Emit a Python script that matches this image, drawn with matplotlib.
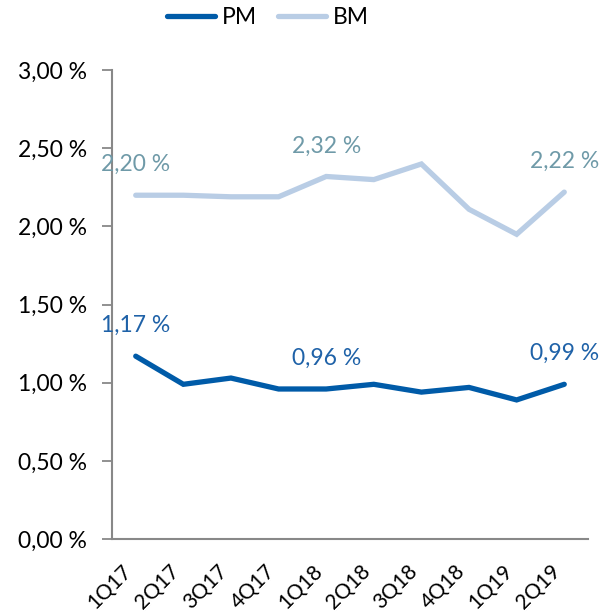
import matplotlib
matplotlib.use('AGG')

import matplotlib.pyplot as plt

plt.rcParams['font.family'] = ['Lato', 'DejaVu Sans']

quarters = ['1Q17', '2Q17', '3Q17', '4Q17', '1Q18', '2Q18', '3Q18', '4Q18', '1Q19', '2Q19']
pm = [1.17, 0.99, 1.03, 0.96, 0.96, 0.99, 0.94, 0.97, 0.89, 0.99]
bm = [2.20, 2.20, 2.19, 2.19, 2.32, 2.30, 2.40, 2.11, 1.95, 2.22]
yticks = [0.0, 0.5, 1.0, 1.5, 2.0, 2.5, 3.0]
labelled = [0, 4, 9]

pm_color = '#005BA8'
bm_color = '#B9CDE5'
pm_text = '#1F62A8'
bm_text = '#6F9AA8'
axis_color = '#888888'
fs = 16.5

def pct(v):
    return ('%.2f %%' % v).replace('.', ',')

fig = plt.figure(figsize=(6.05, 6.16), dpi=100)
ax = fig.add_axes([0.185, 0.125, 0.787, 0.761])

x = list(range(len(quarters)))
ax.plot(x, pm, color=pm_color, lw=3.8, solid_capstyle='round', solid_joinstyle='miter', label='PM')
ax.plot(x, bm, color=bm_color, lw=3.8, solid_capstyle='round', solid_joinstyle='miter', label='BM')

for i in labelled:
    ax.annotate(pct(pm[i]), (x[i], pm[i]), xytext=(0, 22), textcoords='offset points',
                ha='center', va='center', color=pm_text, fontsize=fs)
    ax.annotate(pct(bm[i]), (x[i], bm[i]), xytext=(0, 22), textcoords='offset points',
                ha='center', va='center', color=bm_text, fontsize=fs)

ax.set_xlim(-0.5, len(quarters) - 0.5)
ax.set_ylim(0, 3)
ax.set_yticks(yticks)
ax.set_yticklabels([pct(v) for v in yticks], fontsize=fs)
ax.set_xticks(x)
# rotated labels end right at the category
ax.set_xticklabels(quarters, rotation=45, ha='right', va='top', fontsize=15)
ax.tick_params(axis='x', length=0, pad=16)
ax.tick_params(axis='y', length=7, width=1.3, color=axis_color, pad=11)

for side in ['top', 'right']:
    ax.spines[side].set_visible(False)
for side in ['left', 'bottom']:
    ax.spines[side].set_color(axis_color)
    ax.spines[side].set_linewidth(1.5)

leg = fig.legend(loc='center', bbox_to_anchor=(0.443, 0.972), ncol=2, frameon=False,
                 fontsize=fs, handlelength=2.1, handletextpad=0.3, columnspacing=0.9)

fig.savefig('out.png', dpi=100)
